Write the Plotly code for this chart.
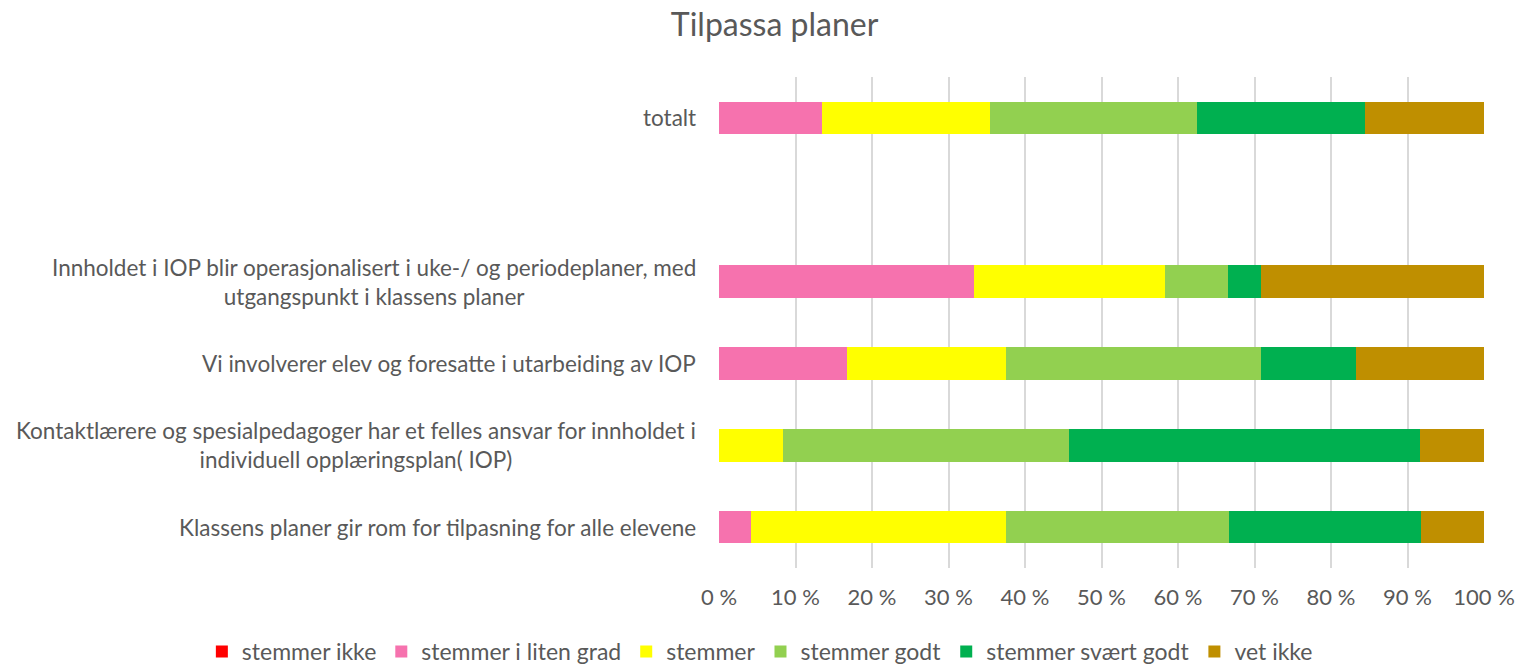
import plotly.graph_objects as go

# Categories, bottom to top (" " is the empty slot under "totalt")
categories = [
    "Klassens planer gir rom for tilpasning for alle elevene",
    "Kontaktlærere og spesialpedagoger har et felles ansvar for innholdet i<br>individuell opplæringsplan( IOP)",
    "Vi involverer elev og foresatte i utarbeiding av IOP",
    "Innholdet i IOP blir operasjonalisert i uke-/ og periodeplaner, med<br>utgangspunkt i klassens planer",
    " ",
    "totalt",
]

series_names = ["stemmer ikke", "stemmer i liten grad", "stemmer", "stemmer godt",
                "stemmer svært godt", "vet ikke"]
series_colors = ["#FF0000", "#F672AE", "#FFFF00", "#92D050", "#00B050", "#BF8F00"]

# values in percent, order matches categories (None = empty slot)
stemmer_ikke = [0, 0, 0, 0, None, 0]
stemmer_liten = [4.2, 0, 16.7, 33.3, None, 13.5]
stemmer = [33.3, 8.3, 20.8, 25.0, None, 21.9]
stemmer_godt = [29.2, 37.5, 33.3, 8.3, None, 27.1]
stemmer_svaert_godt = [25.0, 45.8, 12.5, 4.2, None, 21.9]
vet_ikke = [8.3, 8.4, 16.7, 29.2, None, 15.6]

series_values = [stemmer_ikke, stemmer_liten, stemmer, stemmer_godt,
                 stemmer_svaert_godt, vet_ikke]

x_ticks = [0, 10, 20, 30, 40, 50, 60, 70, 80, 90, 100]
x_tick_labels = [f"{v} %" for v in x_ticks]

FONT = "Lato"
TXT = "#595959"

fig = go.Figure()
for name, color, vals in zip(series_names, series_colors, series_values):
    fig.add_trace(go.Bar(
        y=categories, x=vals, name=name, orientation="h",
        marker=dict(color=color, line=dict(width=0)),
        width=0.40,
    ))

# category labels, centred multi-line text right-aligned against the plot
for cat in categories:
    if cat.strip():
        fig.add_annotation(
            x=0, xref="paper", y=cat, yref="y", text=cat,
            xanchor="right", yanchor="middle", align="center",
            xshift=-21, showarrow=False,
            font=dict(family=FONT, size=22.5, color=TXT),
        )

fig.update_layout(
    barmode="stack",
    width=1515, height=657,
    margin=dict(l=711, r=39, t=69, b=97, autoexpand=False),
    paper_bgcolor="white", plot_bgcolor="white",
    font=dict(family=FONT, color=TXT, size=22),
    title=dict(text="Tilpassa planer", font=dict(size=32, color=TXT, family=FONT),
               x=0.506, xref="container", xanchor="center",
               y=0.992, yref="container", yanchor="top", pad=dict(t=0)),
    legend=dict(orientation="h", xref="paper", yref="paper",
                x=-0.676, xanchor="left", y=-0.170, yanchor="middle",
                font=dict(size=23, color=TXT), traceorder="normal",
                tracegroupgap=0),
    showlegend=True,
)
fig.update_xaxes(
    range=[0, 100], tickvals=x_ticks, ticktext=x_tick_labels,
    showgrid=True, gridcolor="#D9D9D9", gridwidth=1.6,
    zeroline=False, showline=False, automargin=False,
    ticks="", ticklabelstandoff=14,
    tickfont=dict(size=22, color=TXT),
)
fig.update_yaxes(
    type="category", categoryorder="array", categoryarray=categories,
    showticklabels=False, automargin=False,
    showgrid=False, zeroline=False, showline=False,
)

fig.write_html("out.html")
